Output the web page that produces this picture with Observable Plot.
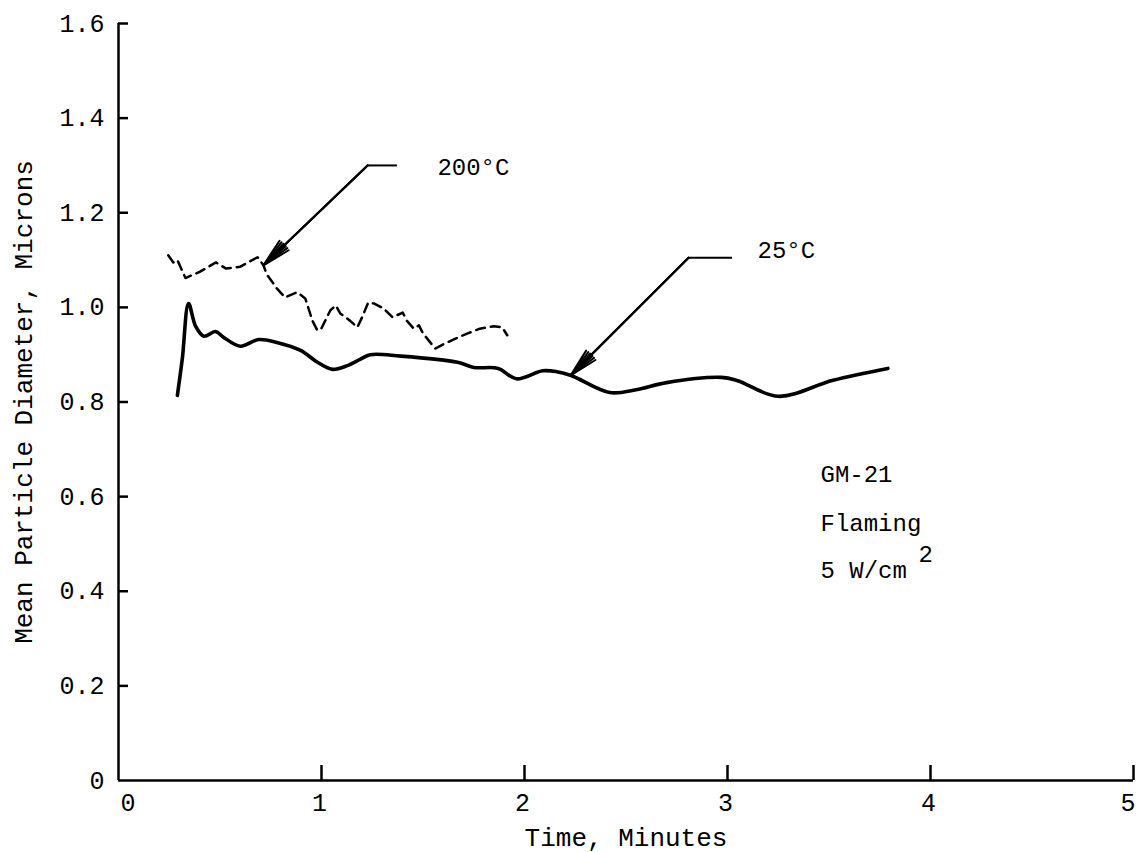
<!DOCTYPE html>
<html>
<head>
<meta charset="utf-8">
<script src="https://cdn.jsdelivr.net/npm/d3@7"></script>
<script src="https://cdn.jsdelivr.net/npm/@observablehq/plot@0.6"></script>
<style>
  html, body { margin: 0; padding: 0; background: #fff; }
  #chart svg { display: block; }
</style>
</head>
<body>
<div id="chart"></div>
<script>
// Mean particle diameter (microns) vs time (minutes), GM-21 flaming at 5 W/cm²

// 25 °C run (solid)
const time25 = [0.29, 0.315, 0.345, 0.38, 0.42, 0.478, 0.517, 0.60, 0.69, 0.78, 0.897, 0.98, 1.054, 1.128,
  1.19, 1.24, 1.39, 1.67, 1.75, 1.87, 1.96, 2.09, 2.16, 2.23, 2.42, 2.55, 2.70, 2.97, 3.05, 3.25, 3.52, 3.79];
const diam25 = [0.814, 0.894, 1.008, 0.96, 0.939, 0.949, 0.937, 0.918, 0.932, 0.926, 0.909, 0.884, 0.869, 0.877,
  0.89, 0.90, 0.897, 0.884, 0.873, 0.871, 0.849, 0.866, 0.864, 0.856, 0.82, 0.826, 0.841, 0.852, 0.845, 0.812, 0.846, 0.871];

// 200 °C run (dashed)
const time200 = [0.245, 0.27, 0.29, 0.33, 0.40, 0.48, 0.53, 0.60, 0.685, 0.714, 0.73, 0.78, 0.82, 0.88, 0.92,
  0.955, 0.98, 1.00, 1.044, 1.07, 1.093, 1.14, 1.177, 1.20, 1.23, 1.26, 1.305, 1.35, 1.40, 1.42, 1.455, 1.48,
  1.50, 1.56, 1.61, 1.66, 1.72, 1.78, 1.85, 1.89, 1.915];
const diam200 = [1.11, 1.095, 1.10, 1.062, 1.075, 1.095, 1.082, 1.086, 1.106, 1.089, 1.07, 1.040, 1.021, 1.032, 1.019,
  0.972, 0.951, 0.956, 0.994, 1.004, 0.987, 0.972, 0.958, 0.979, 1.01, 1.008, 0.998, 0.979, 0.989, 0.972, 0.955, 0.962,
  0.945, 0.913, 0.924, 0.934, 0.945, 0.955, 0.960, 0.958, 0.941];

// Axis ticks
const xTicks = [0, 1, 2, 3, 4, 5];
const yTicks = [0, 0.2, 0.4, 0.6, 0.8, 1.0, 1.2, 1.4, 1.6];
const xTitle = "Time, Minutes";
const yTitle = "Mean Particle Diameter, Microns";

// Callouts: label, label anchor, elbow of the leader, and arrow tip on the curve
const calloutLabels = ["200°C", "25°C"];
const calloutTextX = [1.571, 3.148];
const calloutTextY = [1.296, 1.12];
const elbowStartX = [1.227, 2.808];
const elbowEndX = [1.374, 3.025];
const elbowY = [1.30, 1.105];
const tipX = [0.714, 2.227];
const tipY = [1.089, 0.856];

// Condition notes
const noteLines = ["GM-21", "Flaming", "5 W/cm"];
const noteX = 3.458;
const noteY = [0.647, 0.543, 0.444];

const run25 = time25.map((t, i) => ({t, d: diam25[i]}));
const run200 = time200.map((t, i) => ({t, d: diam200[i]}));
const callouts = calloutLabels.map((label, i) => ({
  label, tx: calloutTextX[i], ty: calloutTextY[i],
  ex1: elbowStartX[i], ex2: elbowEndX[i], ey: elbowY[i], ax: tipX[i], ay: tipY[i]
}));
const notes = noteLines.map((text, i) => ({text, x: noteX, y: noteY[i]}));

const font = "'Liberation Mono', 'DejaVu Sans Mono', monospace";
const yFormat = d => d === 0 ? "0" : d.toFixed(1);

const chart = Plot.plot({
  width: 1136,
  height: 852,
  marginLeft: 118,
  marginRight: 3,
  marginTop: 23,
  marginBottom: 72,
  style: {fontFamily: font, fontSize: "25px", color: "#000", background: "#fff", overflow: "visible"},
  x: {domain: [0, 5]},
  y: {domain: [0, 1.6]},
  marks: [
    // axis lines
    Plot.ruleY([0], {stroke: "#000", strokeWidth: 2.5}),
    Plot.ruleX([0], {stroke: "#000", strokeWidth: 2.5}),
    // inward-pointing ticks (shifted inside the frame, no labels)
    Plot.axisX(xTicks.slice(1), {tickSize: 15, dy: -15, strokeWidth: 2.5, label: null, tickFormat: () => ""}),
    Plot.axisY(yTicks.slice(1), {tickSize: 10, dx: 10, strokeWidth: 2.5, label: null, tickFormat: () => ""}),
    // tick labels
    Plot.axisX([0], {tickSize: 0, tickPadding: 13, textAnchor: "start", dx: 2, label: null, tickFormat: d => String(d)}),
    Plot.axisX(xTicks.slice(1, -1), {tickSize: 0, tickPadding: 13, dx: -2, label: null, tickFormat: d => String(d)}),
    Plot.axisX(xTicks.slice(-1), {tickSize: 0, tickPadding: 13, textAnchor: "end", dx: 2, label: null, tickFormat: d => String(d)}),
    Plot.axisY(yTicks, {tickSize: 0, tickPadding: 14, label: null, tickFormat: yFormat}),
    // axis titles
    Plot.text([xTitle], {frameAnchor: "bottom", dy: 57, lineAnchor: "middle", textAnchor: "middle", text: d => d, fontSize: 26}),
    Plot.text([yTitle], {frameAnchor: "left", dx: -95, rotate: -90, textAnchor: "middle", lineAnchor: "middle", text: d => d, fontSize: 26}),
    // data
    Plot.line(run200, {x: "t", y: "d", stroke: "#000", strokeWidth: 2.5, strokeDasharray: "9,6"}),
    Plot.line(run25, {x: "t", y: "d", stroke: "#000", strokeWidth: 3.6, curve: "catmull-rom"}),
    // callout leaders
    Plot.ruleY(callouts, {y: "ey", x1: "ex1", x2: "ex2", stroke: "#000", strokeWidth: 2}),
    ...[26, 16, 7].map(angle =>
      Plot.arrow(callouts, {x1: "ex1", y1: "ey", x2: "ax", y2: "ay", stroke: "#000", strokeWidth: 2,
        headLength: 22, headAngle: angle})),
    Plot.text(callouts, {x: "tx", y: "ty", text: "label", textAnchor: "start", fontSize: 24}),
    // condition notes
    Plot.text(notes, {x: "x", y: "y", text: "text", textAnchor: "start", fontSize: 24}),
    Plot.text(notes.slice(2), {x: "x", y: "y", text: () => "2", textAnchor: "start", fontSize: 24, dx: 98, dy: -16})
  ]
});

document.getElementById("chart").append(chart);
</script>
</body>
</html>
